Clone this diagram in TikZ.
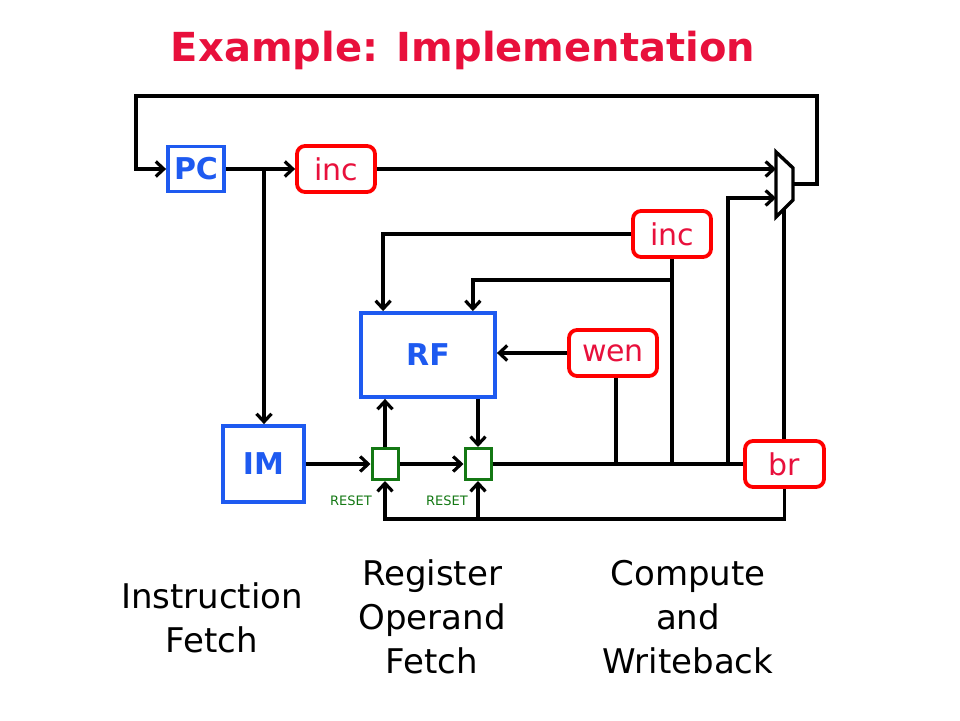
\documentclass[tikz,border=0pt]{standalone}
\usepackage{fontspec}
\setmainfont{DejaVu Sans}
\usetikzlibrary{arrows.meta}
\definecolor{tred}{RGB}{232,16,60}
\definecolor{bred}{RGB}{255,0,0}
\definecolor{tblue}{RGB}{30,90,240}
\definecolor{tgreen}{RGB}{20,120,20}
\begin{document}
\begin{tikzpicture}[x=1pt,y=-1pt,
  wire/.style={draw=black,line width=3.4pt},
  arr/.style={wire,-{Straight Barb[length=8pt,width=15pt,line width=3.2pt]}},
  bluebox/.style={draw=tblue,line width=3.8pt,text=tblue,font=\fontsize{30}{34}\selectfont\bfseries,inner sep=0pt},
  redbox/.style={draw=bred,line width=3.8pt,rounded corners=8pt,text=tred,font=\fontsize{30}{34}\selectfont,inner sep=0pt,minimum height=46pt},
  greenbox/.style={draw=tgreen,line width=3pt,minimum width=26pt,minimum height=31pt,inner sep=0pt},
  resetlbl/.style={text=tgreen,font=\fontsize{13}{15}\selectfont},
  stage/.style={align=center,font=\fontsize{34}{44}\selectfont}
]
\useasboundingbox (0,0) rectangle (960,720);
\node[text=tred,font=\fontsize{40}{44}\selectfont\bfseries] (title) at (463,50) {Example: Implementation};

\node[bluebox,minimum width=56pt,minimum height=45pt] (pc) at (196,169) {PC};
\node[redbox,minimum width=78pt] (inc1) at (336,169) {inc};
\node[redbox,minimum width=78pt] (inc2) at (672,234) {inc};
\node[bluebox,minimum width=134pt,minimum height=84pt] (rf) at (428,355) {RF};
\node[redbox,minimum width=88pt] (wen) at (613,353) {wen};
\node[bluebox,minimum width=81pt,minimum height=76pt] (im) at (263.5,464) {IM};
\node[redbox,minimum width=79pt] (br) at (784.5,464) {br};
\node[greenbox] (g1) at (385,464) {};
\node[greenbox] (g2) at (478,464) {};
\node[resetlbl] (r1) at (351,501) {RESET};
\node[resetlbl] (r2) at (447,501) {RESET};

\draw[wire,line join=miter] (776,152) -- (793,168) -- (793,200) -- (776,217) -- cycle;
\coordinate (muxa) at (776,169);
\coordinate (muxb) at (776,198);
\coordinate (muxout) at (793,184);
\coordinate (muxbot) at (784,209);
\coordinate (topR) at (817,96);
\coordinate (topL) at (136,96);
\coordinate (j1) at (264,169);
\coordinate (rfin1) at ([xshift=24pt]rf.north west);
\coordinate (rfin2) at ([xshift=-24pt]rf.north east);
\coordinate (v3) at (728,464);
\coordinate (ybot) at (0,519);
\coordinate (y280) at (0,280);

\draw[arr] (muxout) -| (topR) -- (topL) |- (pc.west);
\draw[arr] (pc.east) -- (inc1.west);
\draw[arr] (j1) -- (j1 |- im.north);
\draw[arr] (inc1.east) -- (muxa);
\draw[arr] (inc2.west) -| (rfin1);
\draw[wire] (inc2.south) -- (inc2.south |- br.west);
\draw[arr] (inc2.south |- y280) -| (rfin2);
\draw[arr] (wen.west) -- (wen.west -| rf.east);
\draw[wire] ([xshift=3pt]wen.south) -- ([xshift=3pt]wen.south |- br.west);
\draw[arr] (v3) |- (muxb);
\draw[wire] (muxbot) -- (muxbot |- br.north);
\draw[arr] (br.south) -- (br.south |- ybot) -| (g1.south);
\draw[arr] (g2.south |- ybot) -- (g2.south);
\draw[arr] (im.east) -- (g1.west);
\draw[arr] (g1.east) -- (g2.west);
\draw[arr] (g1.north) -- (g1.north |- rf.south);
\draw[arr] (g2.north |- rf.south) -- (g2.north);
\draw[wire] (g2.east) -- (br.west);

\node[stage] (s1) at (212,618) {Instruction\\Fetch};
\node[stage] (s2) at (432,617) {Register\\Operand\\Fetch};
\node[stage] (s3) at (688,617) {Compute\\and\\Writeback};
\end{tikzpicture}
\end{document}
